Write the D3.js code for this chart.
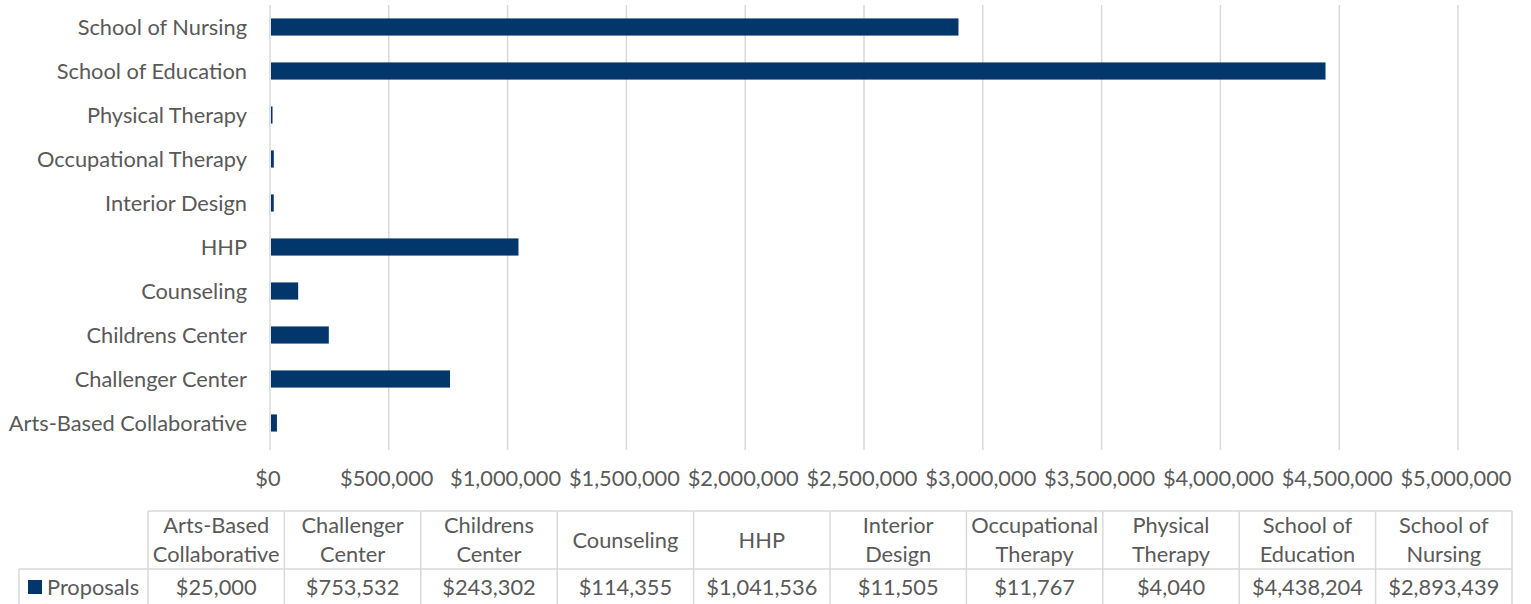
<!DOCTYPE html>
<html><head><meta charset="utf-8">
<script src="https://cdn.jsdelivr.net/npm/d3@7"></script>
<style>body{margin:0;background:#fff}svg{display:block}text{font-family:Lato,"Open Sans",sans-serif;fill:#595959}</style>
</head><body>
<script>
const categories = ["Arts-Based Collaborative","Challenger Center","Childrens Center","Counseling","HHP","Interior Design","Occupational Therapy","Physical Therapy","School of Education","School of Nursing"];
const headerLines = [["Arts-Based","Collaborative"],["Challenger","Center"],["Childrens","Center"],["Counseling"],["HHP"],["Interior","Design"],["Occupational","Therapy"],["Physical","Therapy"],["School of","Education"],["School of","Nursing"]];
const seriesName = "Proposals";
const proposals = [25000,753532,243302,114355,1041536,11505,11767,4040,4438204,2893439];
const xTicks = [0,500000,1000000,1500000,2000000,2500000,3000000,3500000,4000000,4500000,5000000];

const W=1531,H=604;
const svg=d3.select("body").append("svg").attr("width",W).attr("height",H);
const fs=21.8;
const x=d3.scaleLinear().domain([0,5000000]).range([270,1458]);
const y=d3.scaleBand().domain(categories).range([445,5]).paddingInner(0.61).paddingOuter(0.305);
const fmt=v=>"$"+d3.format(",")(v);

// gridlines
svg.append("g").selectAll("line").data(xTicks).join("line")
 .attr("x1",d=>x(d)).attr("x2",d=>x(d)).attr("y1",5).attr("y2",450)
 .attr("stroke","#d9d9d9").attr("stroke-width",1.5);

// bars
svg.append("g").selectAll("rect").data(categories).join("rect")
 .attr("x",x(0)+1).attr("y",d=>y(d)).attr("height",y.bandwidth())
 .attr("width",(d,i)=>Math.max(1.5,x(proposals[i])-x(0)))
 .attr("fill","#03366a");

// category labels
svg.append("g").selectAll("text").data(categories).join("text")
 .attr("x",247).attr("y",d=>y(d)+y.bandwidth()/2).attr("dy","0.35em")
 .attr("text-anchor","end").style("font-size",fs+"px").text(d=>d);

// x tick labels
svg.append("g").selectAll("text").data(xTicks).join("text")
 .attr("x",d=>x(d)-2).attr("y",478).attr("dy","0.35em").attr("text-anchor","middle")
 .style("font-size",fs+"px").text(fmt);

// data table
const tLeft=148,tRight=1512,tTop=511,tMid=569,tBot=606,lLeft=19;
const col=d3.scaleBand().domain(categories).range([tLeft,tRight]);
const tg=svg.append("g");
const bc="#d9d9d9";
tg.append("line").attr("x1",tLeft).attr("x2",tRight).attr("y1",tTop).attr("y2",tTop).attr("stroke",bc).attr("stroke-width",1.5);
tg.append("line").attr("x1",lLeft).attr("x2",tRight).attr("y1",tMid).attr("y2",tMid).attr("stroke",bc).attr("stroke-width",1.5);
tg.append("line").attr("x1",lLeft).attr("x2",lLeft).attr("y1",tMid).attr("y2",tBot).attr("stroke",bc).attr("stroke-width",1.5);
tg.selectAll("line.v").data(categories.concat(["_end"])).join("line").attr("class","v")
 .attr("x1",d=>d==="_end"?tRight:col(d)).attr("x2",d=>d==="_end"?tRight:col(d))
 .attr("y1",tTop).attr("y2",tBot).attr("stroke",bc).attr("stroke-width",1.5);
// headers
categories.forEach((c,i)=>{
  const lines=headerLines[i];
  const cx=col(c)+col.bandwidth()/2;
  const cy=(tTop+tMid)/2;
  lines.forEach((l,j)=>{
    tg.append("text").attr("x",cx).attr("y",cy+(j-(lines.length-1)/2)*29).attr("dy","0.35em")
     .attr("text-anchor","middle").style("font-size",fs+"px").text(l);
  });
  tg.append("text").attr("x",cx).attr("y",587).attr("dy","0.35em").attr("text-anchor","middle")
   .style("font-size",fs+"px").text(fmt(proposals[i]));
});
// legend key
tg.append("rect").attr("x",28).attr("y",580).attr("width",14).attr("height",14).attr("fill","#03366a");
tg.append("text").attr("x",47).attr("y",587).attr("dy","0.35em").style("font-size",fs+"px").text(seriesName);
</script>
</body></html>
